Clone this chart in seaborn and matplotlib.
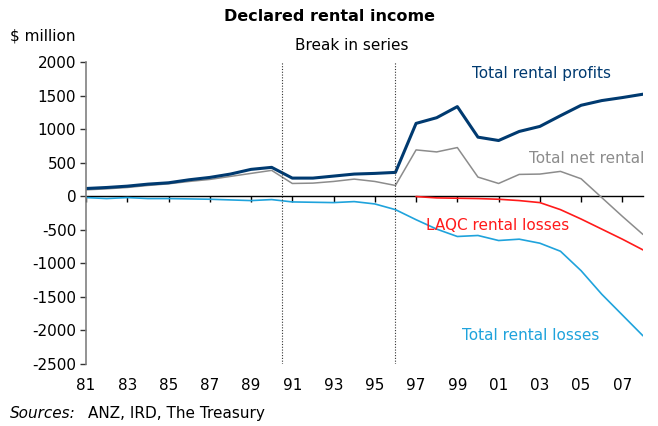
import numpy as np
import pandas as pd
import matplotlib
matplotlib.use("Agg")
import matplotlib.pyplot as plt
import seaborn as sns

# Data, $ million, March years
years = list(range(1981, 2009))
total_profits = [115, 130, 150, 180, 200, 245, 280, 330, 400, 430,
                 270, 270, 300, 330, 340, 355, 1085, 1170, 1335, 880,
                 830, 965, 1040, 1200, 1355, 1425, 1470, 1520]
total_net = [95, 110, 130, 160, 185, 220, 250, 295, 340, 385,
             190, 195, 220, 255, 220, 160, 690, 660, 725, 285,
             190, 325, 330, 370, 260, -20, -300, -570]
total_losses = [-20, -35, -20, -35, -35, -40, -45, -55, -65, -50,
                -85, -90, -95, -80, -115, -200, -350, -490, -600, -585,
                -660, -640, -700, -820, -1110, -1460, -1770, -2080]
laqc_years = list(range(1997, 2009))
laqc_losses = [-5, -25, -30, -35, -45, -65, -95, -200, -340, -490, -640, -800]

tick_years = list(range(1981, 2009, 2))
tick_labels = [f"{y % 100:02d}" for y in tick_years]
y_ticks = list(range(-2500, 2001, 500))
breaks = [1990.5, 1996]

navy = "#003A70"
grey = "#8C8C8C"
red = "#FF1A1A"
blue = "#1FA3DC"

df = pd.DataFrame({"year": years, "profits": total_profits,
                   "net": total_net, "losses": total_losses})
laqc = pd.DataFrame({"year": laqc_years, "laqc": laqc_losses})

sns.set_style("white")
plt.rcParams["font.family"] = ["DejaVu Sans"]
plt.rcParams["text.color"] = "black"
fs = 11

fig = plt.figure(figsize=(6.58, 4.26), dpi=100)
ax = fig.add_axes([0.1307, 0.1455, 0.8465, 0.709])

sns.lineplot(data=df, x="year", y="losses", color=blue, lw=1.2, ax=ax)
sns.lineplot(data=laqc, x="year", y="laqc", color=red, lw=1.2, ax=ax)
sns.lineplot(data=df, x="year", y="net", color=grey, lw=1.1, ax=ax)
sns.lineplot(data=df, x="year", y="profits", color=navy, lw=2.2, ax=ax)

for b in breaks:
    ax.axvline(b, color="#333333", lw=0.8, ls=(0, (1, 1.5)))

ax.set_xlim(1981, 2008)
ax.set_ylim(-2500, 2000)
ax.set_yticks(y_ticks)
ax.set_yticklabels([str(v) for v in y_ticks])
ax.set_xticks(tick_years)
ax.set_xticklabels(tick_labels)
ax.set_xlabel("")
ax.set_ylabel("")

for s in ["top", "right", "bottom"]:
    ax.spines[s].set_visible(False)
ax.spines["left"].set_color("#808080")
ax.spines["left"].set_linewidth(1.2)
ax.tick_params(axis="y", direction="out", length=4, width=1, color="#333333",
               pad=3, labelsize=fs, labelcolor="black", left=True)
ax.tick_params(axis="x", length=0, pad=10, labelsize=fs, labelcolor="black")

# zero line with tick marks
sec = ax.secondary_xaxis(2500 / 4500)
sec.set_xticks(tick_years)
sec.tick_params(direction="in", length=4, width=1, color="black",
                labeltop=False, labelbottom=False)
sec.spines["top"].set_color("black")
sec.spines["top"].set_linewidth(1.0)

# series labels
ax.text(1999.7, 1830, "Total rental profits", color=navy, fontsize=fs,
        ha="left", va="center")
ax.text(2002.45, 560, "Total net rental", color=grey, fontsize=fs,
        ha="left", va="center")
ax.text(1997.5, -430, "LAQC rental losses", color=red, fontsize=fs,
        ha="left", va="center")
ax.text(1999.25, -2080, "Total rental losses", color=blue, fontsize=fs,
        ha="left", va="center")

fig.text(0.5, 0.962, "Declared rental income", ha="center", va="center",
         fontsize=11.5, fontweight="bold")
fig.text(0.015, 0.915, "$ million", ha="left", va="center", fontsize=fs)
fig.text(352 / 658, 1 - 46 / 426, "Break in series", ha="center", va="center",
         fontsize=fs)
fig.text(0.015, 0.03, "Sources:", ha="left", va="center", fontsize=fs,
         style="italic")
fig.text(88 / 658, 0.03, "ANZ, IRD, The Treasury", ha="left", va="center",
         fontsize=fs)

fig.savefig("out.png", dpi=100)
